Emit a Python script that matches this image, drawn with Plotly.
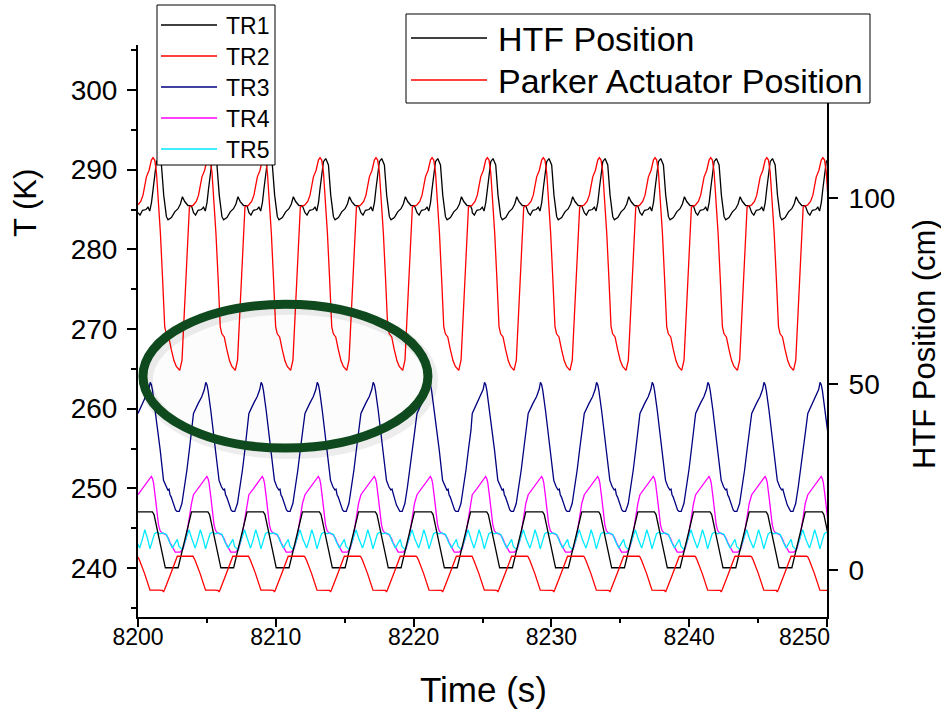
import plotly.graph_objects as go

# Times (s) of each TR2 temperature peak, one per oscillation cycle
cycle_peaks = [8201.09, 8205.12, 8209.14, 8213.21, 8217.27, 8221.34, 8225.35,
               8229.41, 8233.48, 8237.52, 8241.56, 8245.63, 8249.70]

# One cycle of each signal: time offset from the cycle's TR2 peak (s) and value
tr1_dt = [-1.089, -0.943, -0.762, -0.508, -0.363, -0.239, -0.109, 0.0, 0.123, 0.247,
          0.414, 0.610, 0.776, 0.972, 1.089, 1.335, 1.575, 1.814, 1.988, 2.134,
          2.300, 2.540, 2.787, 2.895]
tr1_T = [284.6, 284.3, 284.9, 285.0, 285.3, 284.8, 285.9, 287.6, 289.6, 291.0,
         291.4, 290.6, 286.8, 284.1, 283.7, 284.0, 284.7, 285.1, 285.7, 286.6,
         286.0, 285.5, 285.5, 285.0]

tr2_dt = [-1.089, -0.893, -0.726, -0.479, -0.290, -0.116, 0.0, 0.123, 0.247, 0.363,
          0.537, 0.689, 0.849, 0.965, 1.139, 1.328, 1.524, 1.691, 1.938, 2.104,
          2.300, 2.489, 2.641, 2.794, 2.895]
tr2_T = [285.6, 286.0, 286.8, 289.1, 289.9, 291.2, 291.5, 291.2, 289.7, 286.8,
         282.0, 276.5, 270.3, 269.4, 269.0, 267.4, 266.0, 265.3, 264.8, 266.1,
         273.2, 281.2, 285.3, 285.5, 285.5]

tr3_dt = [-1.093, -0.740, -0.493, -0.305, -0.203, -0.116, -0.036, 0.160, 0.522, 0.762,
          0.936, 1.074, 1.161, 1.234, 1.321, 1.488, 1.633, 1.734, 1.901, 2.097,
          2.286, 2.460, 2.649, 2.823]
tr3_T = [259.4, 260.7, 261.5, 262.4, 263.3, 263.0, 262.3, 259.8, 254.8, 251.0,
         250.2, 249.8, 249.9, 249.2, 248.9, 247.9, 247.3, 247.1, 247.1, 248.1,
         250.2, 252.3, 255.0, 257.3]

tr4_dt = [-1.093, -0.740, -0.377, -0.218, -0.123, -0.036, 0.036, 0.160, 0.283, 0.399,
          0.508, 0.646, 0.943, 1.125, 1.234, 1.372, 1.611, 1.974, 2.177, 2.395,
          2.612, 2.794]
tr4_T = [249.2, 250.0, 250.8, 251.2, 251.5, 251.2, 250.7, 249.0, 247.3, 245.4,
         244.7, 244.4, 244.2, 243.7, 243.2, 242.7, 242.0, 242.0, 242.4, 243.7,
         246.2, 248.1]

tr5_dt = [-1.093, -0.972, -0.776, -0.595, -0.399, -0.218, -0.051, 0.109, 0.290, 0.508,
          0.726, 0.980, 1.161, 1.401, 1.597, 1.763, 1.887, 2.126, 2.366, 2.612, 2.830]
tr5_T = [243.0, 242.5, 243.6, 244.8, 243.7, 242.4, 243.4, 244.3, 244.5, 244.3,
         244.4, 244.2, 243.4, 242.5, 243.1, 243.6, 242.7, 242.3, 243.5, 244.8, 243.6]

htf_dt = [-1.093, -0.044, 0.073, 0.893, 1.821, 2.721, 2.794]
htf_cm = [15.6, 15.6, 14.9, 0.6, 0.6, 14.9, 15.6]

parker_dt = [-1.093, -0.980, -0.617, -0.218, 0.363, 0.689, 0.762, 0.835, 1.306,
             1.669, 1.763, 2.900]
parker_cm = [3.5, 2.6, -0.9, -5.4, -5.4, -5.5, -5.9, -5.3, -0.8, 3.2, 3.7, 3.7]

tick_T = [240, 250, 260, 270, 280, 290, 300]
tick_cm = [0, 50, 100]
tick_time = [8200, 8210, 8220, 8230, 8240, 8250]


def build(dts, vals):
    """Lay the measured cycle down at every cycle peak time."""
    ts, vs = [], []
    for c in cycle_peaks:
        for d, v in zip(dts, vals):
            ts.append(round(c + d, 3))
            vs.append(v)
    return ts, vs


FONT = "Liberation Sans, Arial, sans-serif"
fig = go.Figure()

temps = [("TR1", tr1_dt, tr1_T, "#000000"),
         ("TR2", tr2_dt, tr2_T, "#ff0000"),
         ("TR3", tr3_dt, tr3_T, "#000080"),
         ("TR4", tr4_dt, tr4_T, "#ff00ff"),
         ("TR5", tr5_dt, tr5_T, "#00eaff")]
for name, dts, vals, col in temps:
    t, v = build(dts, vals)
    fig.add_trace(go.Scatter(x=t, y=v, mode="lines", name=name, showlegend=False,
                             line=dict(color=col, width=1.3)))

positions = [("HTF Position", htf_dt, htf_cm, "#000000"),
             ("Parker Actuator Position", parker_dt, parker_cm, "#ff0000")]
for name, dts, vals, col in positions:
    t, v = build(dts, vals)
    fig.add_trace(go.Scatter(x=t, y=v, mode="lines", name=name, showlegend=False,
                             yaxis="y2", line=dict(color=col, width=1.3)))

W, H = 941, 709
L, R, T, B = 138, 114, 45, 92
PW, PH = W - L - R, H - T - B


def px(x):
    return (x - L) / PW


def py(y):
    return (H - B - y) / PH


shapes = []
annotations = []

# highlighted region: soft shadow, then the dark green ring
shapes.append(dict(type="circle", xref="x", yref="y", x0=8200.6, x1=8221.3,
                   y0=254.5, y1=272.6, layer="above",
                   line=dict(color="rgba(0,0,0,0.07)", width=13)))
shapes.append(dict(type="circle", xref="x", yref="y", x0=8200.36, x1=8221.04,
                   y0=255.06, y1=273.1, layer="above", fillcolor="rgba(0,0,0,0.012)",
                   line=dict(color="#0e4a1d", width=9)))

# legend for the temperature sensors
shapes.append(dict(type="rect", xref="paper", yref="paper", x0=px(157), x1=px(275),
                   y0=py(165), y1=py(5), layer="above", fillcolor="white",
                   line=dict(color="black", width=1)))
for i, (name, _, _, col) in enumerate(temps):
    yy = 25 + i * 31
    shapes.append(dict(type="line", xref="paper", yref="paper", x0=px(161), x1=px(217),
                       y0=py(yy), y1=py(yy), layer="above", line=dict(color=col, width=1.3)))
    annotations.append(dict(xref="paper", yref="paper", x=px(224), y=py(yy + 1), text=name,
                            showarrow=False, xanchor="left", yanchor="middle",
                            font=dict(family=FONT, size=23, color="black")))

# legend for the positions
shapes.append(dict(type="rect", xref="paper", yref="paper", x0=px(406), x1=px(870),
                   y0=py(103), y1=py(14), layer="above", fillcolor="white",
                   line=dict(color="black", width=1)))
for i, (name, _, _, col) in enumerate(positions):
    yy = 38 + i * 42
    shapes.append(dict(type="line", xref="paper", yref="paper", x0=px(411), x1=px(487),
                       y0=py(yy), y1=py(yy), layer="above", line=dict(color=col, width=1.3)))
    annotations.append(dict(xref="paper", yref="paper", x=px(496), y=py(yy + 1), text=name,
                            showarrow=False, xanchor="left", yanchor="middle",
                            font=dict(family=FONT, size=34, color="black")))

# the last time label sits pulled in from the axis corner
time_text = [str(v) for v in tick_time[:-1]] + [""]
annotations.append(dict(xref="paper", yref="paper", x=px(804), y=py(637),
                        text=str(tick_time[-1]), showarrow=False, xanchor="center",
                        yanchor="middle", font=dict(family=FONT, size=23, color="black")))

# axis titles
annotations.append(dict(xref="paper", yref="paper", x=px(25), y=py(203), text="T (K)",
                        textangle=-90, showarrow=False, xanchor="center", yanchor="middle",
                        font=dict(family=FONT, size=31, color="black")))
annotations.append(dict(xref="paper", yref="paper", x=px(924), y=py(344),
                        text="HTF Position (cm)", textangle=-90, showarrow=False,
                        xanchor="center", yanchor="middle",
                        font=dict(family=FONT, size=31, color="black")))
annotations.append(dict(xref="paper", yref="paper", x=px(484), y=py(689), text="Time (s)",
                        showarrow=False, xanchor="center", yanchor="middle",
                        font=dict(family=FONT, size=35, color="black")))

fig.update_layout(
    width=W, height=H,
    margin=dict(l=L, r=R, t=T, b=B, pad=0),
    paper_bgcolor="white", plot_bgcolor="white",
    showlegend=False,
    shapes=shapes, annotations=annotations,
    xaxis=dict(range=[8200, 8250], tickvals=tick_time, ticktext=time_text,
               ticks="outside", ticklen=8,
               tickwidth=2, tickcolor="black", showline=True, linewidth=2,
               linecolor="black", showgrid=False, zeroline=False,
               ticklabelstandoff=-10,
               tickfont=dict(family=FONT, size=23, color="black"),
               minor=dict(dtick=5, tick0=8200, ticks="outside", ticklen=4,
                          tickwidth=2, tickcolor="black")),
    yaxis=dict(range=[233.85, 305.65], tickvals=tick_T, ticks="outside", ticklen=9,
               tickwidth=2, tickcolor="black", showline=True, linewidth=2,
               linecolor="black", showgrid=False, zeroline=False,
               ticklabelstandoff=4,
               tickfont=dict(family=FONT, size=28, color="black"),
               minor=dict(dtick=5, tick0=235, ticks="outside", ticklen=5,
                          tickwidth=2, tickcolor="black")),
    yaxis2=dict(range=[-12.63, 141.1], tickvals=tick_cm, overlaying="y", side="right",
                ticks="outside", ticklen=9, tickwidth=2, tickcolor="black",
                showline=True, linewidth=2, linecolor="black", showgrid=False,
                zeroline=False, ticklabelstandoff=5,
                tickfont=dict(family=FONT, size=28, color="black")),
)

fig.write_html("out.html")
